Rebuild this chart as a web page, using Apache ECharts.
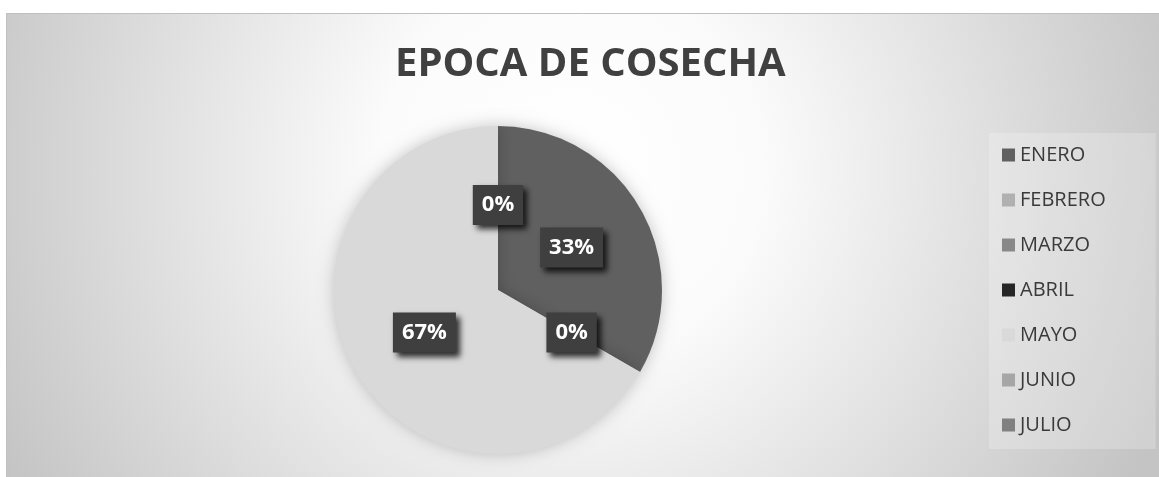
<!DOCTYPE html>
<html>
<head>
<meta charset="utf-8">
<script src="https://cdn.jsdelivr.net/npm/echarts@6/dist/echarts.min.js"></script>
<style>
html,body{margin:0;padding:0;background:#ffffff;}
#c{width:1159px;height:477px;}
</style>
</head>
<body>
<div id="c"></div>
<script>
const titleText = 'EPOCA DE COSECHA';
const categories = ['ENERO', 'FEBRERO', 'MARZO', 'ABRIL', 'MAYO', 'JUNIO', 'JULIO'];
const values = [1, 0, 0, 0, 2, 0, 0];
const colors = ['#606060', '#b0b0b0', '#888888', '#262626', '#d9d9d9', '#a6a6a6', '#808080'];

const chart = echarts.init(document.getElementById('c'), null, {renderer: 'canvas'});
chart.setOption({
  animation: false,
  color: colors,
  graphic: [
    {
      type: 'rect', z: -10, silent: true,
      shape: {x: 6, y: 13, width: 1153, height: 464},
      style: {
        fill: {
          type: 'radial', x: 570, y: 170, r: 640, global: true,
          colorStops: [
            {offset: 0, color: '#ffffff'},
            {offset: 0.3, color: '#fbfbfb'},
            {offset: 1, color: '#c4c4c4'}
          ]
        }
      }
    },
    {
      type: 'polyline', z: -9, silent: true,
      shape: {points: [[6.5, 477], [6.5, 13.5], [1159, 13.5]]},
      style: {stroke: '#c0c0c0', lineWidth: 1, fill: null}
    }
  ],
  title: {
    text: titleText,
    left: 390,
    top: 40,
    textStyle: {fontFamily: 'Open Sans', fontWeight: 'bold', fontSize: 40, color: '#404040'}
  },
  legend: {
    orient: 'vertical',
    left: 989,
    top: 133,
    padding: [12, 50, 14, 13],
    backgroundColor: 'rgba(255,255,255,0.22)',
    itemWidth: 13,
    itemHeight: 13,
    itemGap: 25,
    icon: 'rect',
    data: categories,
    textStyle: {fontFamily: 'Open Sans', fontSize: 20, lineHeight: 20, color: '#3a3a3a'}
  },
  series: [{
    type: 'pie',
    center: [498, 290],
    radius: [0, 164],
    startAngle: 90,
    clockwise: true,
    percentPrecision: 0,
    avoidLabelOverlap: false,
    labelLayout: {hideOverlap: true},
    itemStyle: {
      shadowBlur: 16,
      shadowColor: 'rgba(0,0,0,0.22)',
      borderWidth: 0
    },
    label: {
      show: true,
      position: 'inside',
      formatter: '{d}%',
      fontFamily: 'Open Sans',
      fontWeight: 'bold',
      fontSize: 22,
      lineHeight: 24,
      color: '#ffffff',
      backgroundColor: '#3f3f3f',
      padding: [8, 9],
      shadowColor: 'rgba(0,0,0,0.8)',
      shadowBlur: 6,
      shadowOffsetX: 4,
      shadowOffsetY: 4
    },
    labelLine: {show: false},
    emphasis: {disabled: true},
    data: categories.map((n, i) => ({name: n, value: values[i]}))
  }]
});
</script>
</body>
</html>
